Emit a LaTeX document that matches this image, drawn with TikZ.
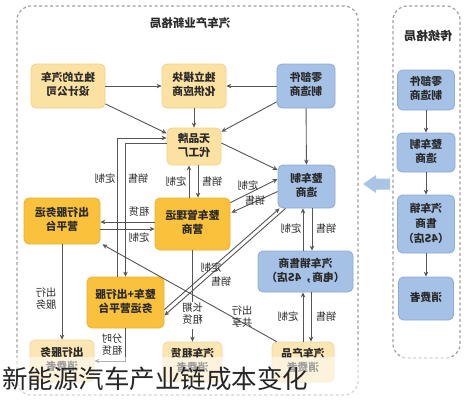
\documentclass[tikz,border=0pt]{standalone}
\usepackage{fontspec}
\usepackage{graphicx}
\newfontfamily\cjk{Noto Sans CJK SC}
\usetikzlibrary{arrows.meta,calc}
\definecolor{lineG}{HTML}{555555}
\definecolor{frameG}{HTML}{A0A0A0}
\definecolor{lyFill}{HTML}{FCE2A2}
\definecolor{lyDraw}{HTML}{F2D08A}
\definecolor{gdFill}{HTML}{F9C13C}
\definecolor{gdDraw}{HTML}{EDB032}
\definecolor{blFill}{HTML}{A6C1E6}
\definecolor{blDraw}{HTML}{8EAAD6}
\definecolor{csFill}{HTML}{FCE6B4}
\definecolor{csDraw}{HTML}{F4D49A}
\definecolor{bigArrow}{HTML}{AAC4E4}
\definecolor{txt}{HTML}{2A2A2A}
\newcommand\mir[1]{\reflectbox{\begin{tabular}{@{}c@{}}#1\end{tabular}}}
\begin{document}
\begin{tikzpicture}[x=1pt,y=-1pt,
  font=\cjk\bfseries\fontsize{10.8}{14}\selectfont,
  bx/.style 2 args={rounded corners=5pt, line width=0.8pt, minimum width=#1pt, minimum height=#2pt, inner sep=0pt, text=txt},
  ly/.style={fill=lyFill, draw=lyDraw},
  gd/.style={fill=gdFill, draw=gdDraw},
  bl/.style={fill=blFill, draw=blDraw},
  cs/.style={fill=csFill, draw=csDraw},
  arr/.style={draw=lineG, line width=0.9pt, -{Stealth[length=5pt,width=4.5pt]}},
  lab/.style={font=\cjk\fontsize{10.3}{12.5}\selectfont, text=txt, inner sep=1pt},
  frame/.style={draw=frameG, line width=1.2pt, dash pattern=on 3pt off 2.5pt, rounded corners=14pt}]
\useasboundingbox (0,0) rectangle (473,400);
\fill[white] (0,0) rectangle (473,400);
% frames
\draw[frame] (17,6) rectangle (358,395);
\draw[frame] (393,6) rectangle (460,358);
\node[font=\cjk\bfseries\fontsize{11.5}{14}\selectfont, text=txt] (titleL) at (190,25) {\mir{汽车产业新格局}};
\node[font=\cjk\bfseries\fontsize{12}{14}\selectfont, text=txt] (titleR) at (428,37) {\mir{传统格局}};
% left frame boxes
\node[bx={74}{44}, ly] (design) at (68,86) {\mir{独立的汽车\\设计公司}};
\node[bx={64}{44}, ly] (module) at (194,86) {\mir{独立模块\\化供应商}};
\node[bx={58}{44}, bl] (partsL) at (306,86) {\mir{零部件\\制造商}};
\node[bx={54}{37}, ly] (oem) at (194,146.5) {\mir{无品牌\\代工厂}};
\node[bx={57}{43}, bl] (carmaker) at (306.5,186.5) {\mir{整车制\\造商}};
\node[bx={76}{46}, gd] (mobility) at (62,221) {\mir{出行服务运\\营平台}};
\node[bx={75}{52}, gd] (fleet) at (192.5,224) {\mir{整车管理运\\营商}};
\node[bx={95}{41}, bl] (dealer) at (305.5,271.5) {\mir{汽车销售商\\（电商，4S店）}};
\node[bx={77}{51}, gd] (combo) at (125.5,302.5) {\mir{整车+出行服\\务运营平台}};
\node[bx={64}{42}, cs] (consMob) at (62,361) {\mir{出行服务\\消费者}};
\node[bx={59}{40}, cs] (consRent) at (192.5,362) {\mir{汽车租赁\\消费者}};
\node[bx={62}{40}, cs] (consProd) at (303,362) {\mir{汽车产品\\消费者}};
% right frame boxes
\node[bx={57}{40}, bl] (partsR) at (426,90) {\mir{零部件\\制造商}};
\node[bx={58}{39}, bl] (makerR) at (426,152.5) {\mir{整车制\\造商}};
\node[bx={57}{58}, bl, font=\cjk\bfseries\fontsize{10.8}{15}\selectfont] (dealerR) at (426,224) {\mir{汽车销\\售商\\（4S店）}};
\node[bx={55}{43}, bl] (consR) at (426,298.5) {\mir{消费者}};
% big arrow
\fill[bigArrow] (363,184) -- (376,175) -- (376,178.5) -- (390,178.5) -- (390,189.5) -- (376,189.5) -- (376,193) -- cycle;
% right column connectors
\draw[arr] (partsR) -- (makerR);
\draw[arr] (makerR) -- (dealerR);
\draw[arr] (dealerR) -- (consR);
% top connectors
\draw[arr] (design) -- (module);
\draw[arr] (partsL) -- (module);
\draw[arr] (design) -- (oem);
\draw[arr] (module) -- (oem);
\draw[arr] (partsL) -- (oem);
\draw[arr] (partsL) -- (carmaker);
\draw[arr] ($(oem.east)+(0,-3.5)$) -- ($(carmaker.west)+(0,-16.5)$);
% oem <-> fleet
\coordinate (o1) at ($(oem.south)+(-5,0)$);
\coordinate (o2) at ($(oem.south)+(4,0)$);
\draw[arr] (o1 |- fleet.north) -- (o1);
\draw[arr] (o2) -- (o2 |- fleet.north);
\node[lab] (lo1) at (176,183) {\mir{定制}};
\node[lab] (lo2) at (212,183) {\mir{销售}};
% oem <-> combo long lines
\coordinate (c9a) at ($(combo.north)+(-8.5,0)$);
\draw[arr] (c9a) |- ($(oem.west)+(0,-8.5)$);
\draw[arr] ($(oem.west)+(0,-3.5)$) -| (combo.north);
\node[lab] (lc1) at (105,180) {\mir{定制}};
\node[lab] (lc2) at (138,180) {\mir{销售}};
% fleet <-> mobility
\coordinate (f10a) at ($(fleet.west)+(0,-2)$);
\coordinate (f10b) at ($(fleet.west)+(0,5)$);
\draw[arr] (f10a) -- (f10a -| mobility.east);
\draw[arr] (f10b -| mobility.east) -- (f10b);
\node[lab] (lf1) at (139,213) {\mir{租赁}};
\node[lab] (lf2) at (139,239) {\mir{定制}};
% fleet <-> carmaker
\draw[arr] ($(fleet.north east)+(0,5)$) -- ($(carmaker.west)+(0,-7.5)$);
\draw[arr] ($(carmaker.west)+(0,5)$) -- ($(fleet.north east)+(1,15)$);
\node[lab] (lk1) at (248,187) {\mir{定制}};
\node[lab] (lk2) at (255,202) {\mir{销售}};
% carmaker <-> dealer
\coordinate (c12a) at ($(carmaker.south)+(-3.5,0)$);
\coordinate (c12b) at ($(carmaker.south)+(5.5,0)$);
\draw[arr] (c12a |- dealer.north) -- (c12a);
\draw[arr] (c12b) -- (c12b |- dealer.north);
\node[lab] (ld1) at (291,230) {\mir{定制}};
\node[lab] (ld2) at (326,230) {\mir{销售}};
% dealer <-> consProd
\coordinate (c13a) at ($(dealer.south)+(-2.5,0)$);
\coordinate (c13b) at ($(dealer.south)+(5.5,0)$);
\draw[arr] (c13a |- consProd.north) -- (c13a);
\draw[arr] (c13b) -- (c13b |- consProd.north);
\node[lab] (lp1) at (288,318) {\mir{定制}};
\node[lab] (lp2) at (326,318) {\mir{销售}};
% carmaker <-> combo
\draw[arr] ($(combo.east)+(0,7)$) -- ($(carmaker.south west)+(2,0)$);
\draw[arr] ($(carmaker.south west)+(8,0)$) -- ($(combo.east)+(0,13)$);
\node[lab] (lm1) at (211,269) {\mir{定制}};
\node[lab] (lm2) at (221,283) {\mir{销售}};
% consProd -> mobility
\draw[arr] ($(consProd.north west)+(5,0)$) -- ($(mobility.south east)+(2,0)$);
\node[lab] (ls) at (242,318) {\mir{出行\\共享}};
% fleet -> consRent
\draw[arr] (fleet.south) -- (consRent.north);
\node[lab, fill=white] (lr) at (192.5,315) {\mir{长期\\租赁}};
% mobility -> consMob
\draw[arr] (mobility.south) -- (mobility.south |- consMob.north);
\node[lab] (lmo) at (46,300) {\mir{出行\\服务}};
% combo -> consMob
\draw[arr] (combo.south) |- (consMob.east);
\node[lab] (lt) at (112,346) {\mir{分时\\租赁}};
% caption band
\fill[white, opacity=0.55] (0,357) rectangle (473,400);
\node[anchor=west, inner sep=0pt, font=\cjk\fontsize{25.5}{30}\selectfont, text=black!85] (cap) at (2,379) {新能源汽车产业链成本变化};
\end{tikzpicture}
\end{document}
